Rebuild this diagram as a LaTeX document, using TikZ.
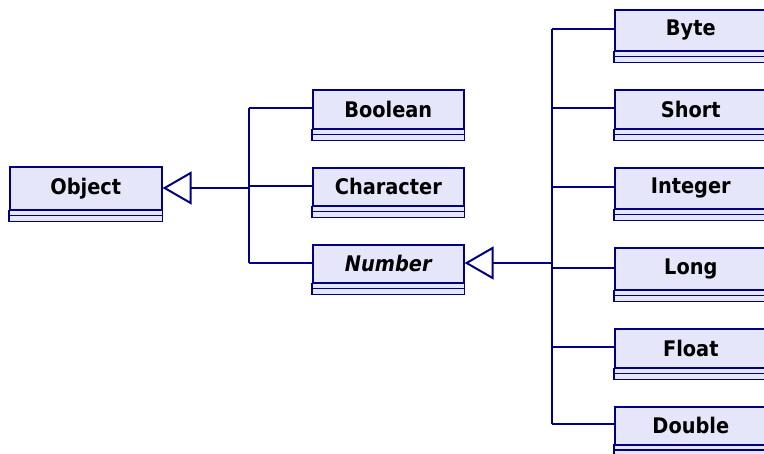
\documentclass[tikz,border=0pt]{standalone}
\usepackage{fontspec}
\usetikzlibrary{arrows.meta}
\newfontfamily\clsfont{DejaVu Sans Condensed}
\definecolor{navyline}{RGB}{0,0,128}
\definecolor{lav}{RGB}{230,230,250}
\tikzset{
  cls/.style={draw=navyline, fill=lav, line width=1.6bp, minimum width=#1,
    anchor=north west, inner sep=0pt,
    font=\clsfont\bfseries\fontsize{21.5bp}{24bp}\selectfont},
  cls/.default=152bp,
  clsline/.style={draw=navyline, fill=lav, line width=1.6bp},
  trunk/.style={draw=navyline, line width=2bp},
  branch/.style={draw=navyline, line width=1.4bp},
  inherit/.style={trunk, -{Triangle[open, length=29bp, width=33bp, fill=white]}}
}
\newcommand\umlcls[6]{%
  \node[cls=#6, minimum height=#4bp] (#1) at (#2,#3) {#5};
  \draw[clsline] (#1.south west) rectangle ([yshift=-5bp]#1.south east);
  \draw[clsline] ([yshift=-5bp]#1.south west) rectangle ([yshift=-11bp]#1.south east);
}
\begin{document}
\begin{tikzpicture}[x=1bp, y=-1bp]
\useasboundingbox (0,0) rectangle (764,454);
% classes
\umlcls{object}{9}{166}{43}{Object}{152bp}
\umlcls{boolean}{312}{89}{39}{Boolean}{151bp}
\umlcls{character}{312}{167}{38}{Character}{151bp}
\umlcls{number}{312}{244}{38}{\itshape Number}{151bp}
\umlcls{byte}{614}{9}{41}{Byte}{152bp}
\umlcls{short}{614}{89}{39}{Short}{152bp}
\umlcls{integer}{614}{167}{41}{Integer}{152bp}
\umlcls{long}{614}{247.5}{41.5}{Long}{152bp}
\umlcls{float}{614}{328}{39}{Float}{152bp}
\umlcls{double}{614}{406}{37.5}{Double}{152bp}
% junction coordinates
\coordinate (j1) at (249,188);
\coordinate (j1t) at (249,108);
\coordinate (j1b) at (249,263);
\coordinate (j2) at (552,263);
\coordinate (j2t) at (552,29);
\coordinate (j2b) at (552,424);
% object hierarchy
\draw[trunk] (j1t) -- (j1b);
\draw[inherit] (j1) -- (object.east |- j1);
\draw[branch] (j1t) -- (boolean.west |- j1t);
\draw[branch] (249,186) -- (character.west |- 0,186);
\draw[branch] (j1b) -- (number.west |- j1b);
% number hierarchy
\draw[trunk] (j2t) -- (j2b);
\draw[inherit] (j2) -- (number.east |- j2);
\draw[branch] (j2t) -- (byte.west |- j2t);
\draw[branch] (552,108) -- (short.west |- 0,108);
\draw[branch] (552,187) -- (integer.west |- 0,187);
\draw[branch] (552,268) -- (long.west |- 0,268);
\draw[branch] (552,347) -- (float.west |- 0,347);
\draw[branch] (j2b) -- (double.west |- j2b);
\end{tikzpicture}
\end{document}
